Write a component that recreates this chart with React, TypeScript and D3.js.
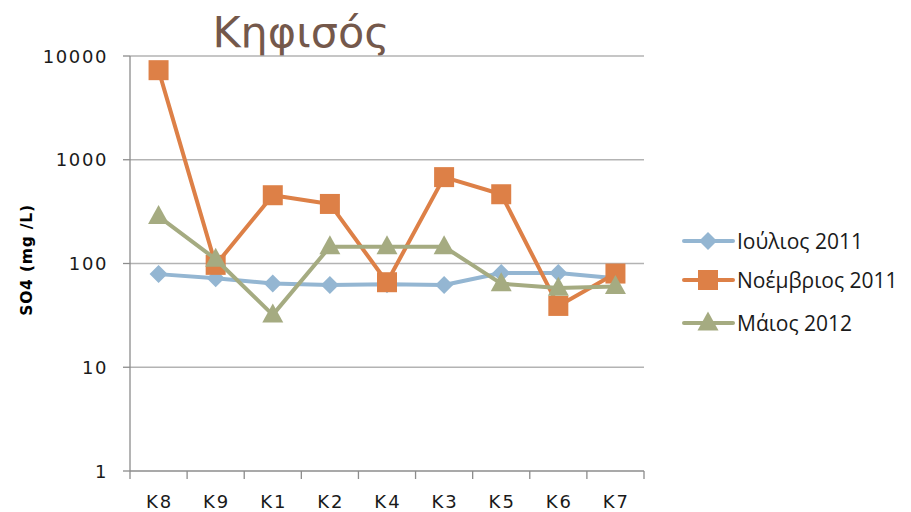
import React from "react";
import * as d3 from "d3";

const categories = ["K8", "K9", "K1", "K2", "K4", "K3", "K5", "K6", "K7"];
const seriesNames = ["Ιούλιος 2011", "Νοέμβριος 2011", "Μάιος 2012"];
const july2011 = [79, 72, 64, 62, 63, 62, 81, 81, 72];
const nov2011 = [7300, 97, 455, 375, 66, 680, 465, 39, 80];
const may2012 = [285, 110, 32, 145, 145, 145, 64, 58, 60];
const yTicks = [1, 10, 100, 1000, 10000];
const colors = ["#94b6d2", "#dd8047", "#a5ab81"];
const markers = ["diamond", "square", "triangle"];

const W = 911, H = 512;
const left = 130, right = 644, top = 56, bottom = 471;

function Marker({ type, x, y, color }: { type: string; x: number; y: number; color: string }) {
  if (type === "diamond") {
    const r = 9;
    return <path d={`M${x},${y - r}L${x + r},${y}L${x},${y + r}L${x - r},${y}Z`} fill={color} />;
  }
  if (type === "square") {
    const s = 20;
    return <rect x={x - s / 2} y={y - s / 2} width={s} height={s} fill={color} />;
  }
  const w = 21, h = 19;
  return <path d={`M${x},${y - h * 0.6}L${x + w / 2},${y + h * 0.4}L${x - w / 2},${y + h * 0.4}Z`} fill={color} />;
}

export default function App() {
  const x = d3.scaleBand<string>().domain(categories).range([left, right]);
  const y = d3.scaleLog().domain([1, 10000]).range([bottom, top]);
  const data = [july2011, nov2011, may2012];
  const line = d3
    .line<number>()
    .x((_, i) => (x(categories[i]) as number) + x.bandwidth() / 2)
    .y((v) => y(v));
  const tickFont = "'DejaVu Sans', sans-serif";
  const boundaries = d3.range(categories.length + 1).map((i) => left + i * x.step());
  return (
    <svg width={W} height={H} style={{ position: "absolute", left: 0, top: 0, background: "#fff" }}>
      <text x={301} y={47} textAnchor="middle" fontFamily={tickFont} fontSize={43} fill="#74584b">
        Κηφισός
      </text>
      {yTicks.map((t) => (
        <g key={t}>
          {t > 1 && <line x1={left} x2={right} y1={y(t)} y2={y(t)} stroke="#b3b3b3" strokeWidth={1.5} />}
          <line x1={left - 7} x2={left} y1={y(t)} y2={y(t)} stroke="#8c8c8c" strokeWidth={1.3} />
          <text
            x={108}
            y={y(t) + 6.5}
            textAnchor="end"
            fontFamily={tickFont}
            fontSize={18}
            letterSpacing={1.6}
            fill="#1a1a1a"
          >
            {t}
          </text>
        </g>
      ))}
      <line x1={left} x2={left} y1={top} y2={bottom} stroke="#8c8c8c" strokeWidth={1.3} />
      <line x1={left} x2={right} y1={bottom} y2={bottom} stroke="#8c8c8c" strokeWidth={1.3} />
      {boundaries.map((b, i) => (
        <line key={i} x1={b} x2={b} y1={bottom} y2={bottom + 8} stroke="#8c8c8c" strokeWidth={1.3} />
      ))}
      {categories.map((c) => (
        <text
          key={c}
          x={(x(c) as number) + x.bandwidth() / 2 + 1}
          y={508}
          textAnchor="middle"
          fontFamily={tickFont}
          fontSize={18}
          letterSpacing={2}
          fill="#1a1a1a"
        >
          {c}
        </text>
      ))}
      <text
        transform={`translate(32,260) rotate(-90)`}
        textAnchor="middle"
        fontFamily="'DejaVu Sans', sans-serif"
        fontWeight="bold"
        fontSize={15.5}
        letterSpacing={0.8}
        fill="#000"
      >
        SO4 (mg /L)
      </text>
      {data.map((vals, si) => (
        <g key={si}>
          <path d={line(vals) || ""} fill="none" stroke={colors[si]} strokeWidth={4} strokeLinejoin="round" />
          {vals.map((v, i) => (
            <Marker
              key={i}
              type={markers[si]}
              x={(x(categories[i]) as number) + x.bandwidth() / 2}
              y={y(v)}
              color={colors[si]}
            />
          ))}
        </g>
      ))}
      {seriesNames.map((n, si) => {
        const ly = [241, 280, 323][si];
        return (
          <g key={n}>
            <line x1={684} x2={733} y1={ly} y2={ly} stroke={colors[si]} strokeWidth={4} strokeLinecap="round" />
            <Marker type={markers[si]} x={708} y={ly} color={colors[si]} />
            <text x={737} y={ly + 8} fontFamily="'Open Sans', sans-serif" fontSize={21} fill="#1a1a1a">
              {n}
            </text>
          </g>
        );
      })}
    </svg>
  );
}
